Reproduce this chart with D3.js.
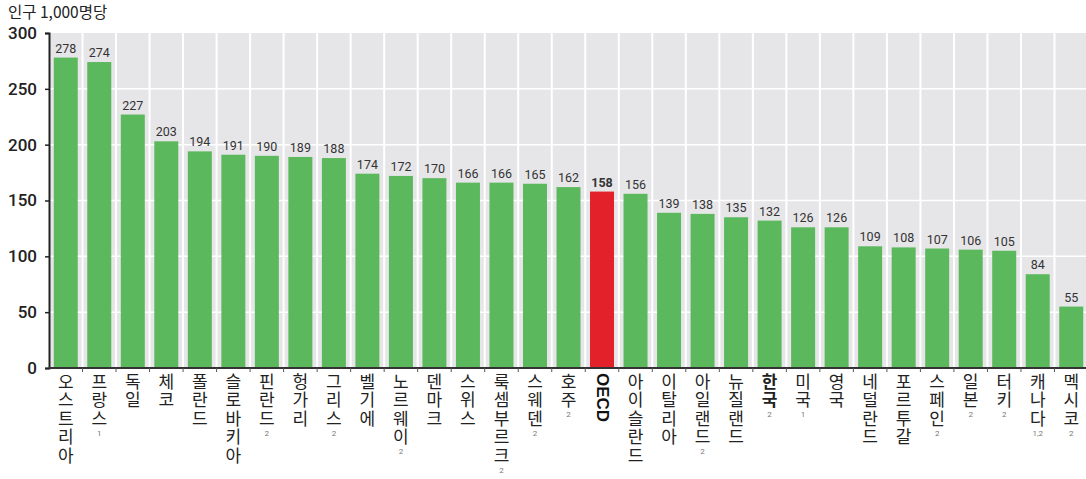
<!DOCTYPE html>
<html>

<head>
    <meta charset="utf-8">
    <title>인구 1,000명당</title>
    <script src="https://cdn.jsdelivr.net/npm/d3@7"></script>
    <style>
        body {
            margin: 0;
            background: #fff;
        }

        .num {
            font-family: 'Liberation Sans Narrow', 'Roboto', sans-serif;
        }

        .kr {
            font-family: 'Noto Sans CJK KR', sans-serif;
        }

        .vlabel {
            writing-mode: vertical-rl;
            text-orientation: upright;
        }
    </style>
</head>

<body>
    <script>
        // Data
        const countries = ['오스트리아', '프랑스', '독일', '체코', '폴란드', '슬로바키아', '핀란드', '헝가리', '그리스',
            '벨기에', '노르웨이', '덴마크', '스위스', '룩셈부르크', '스웨덴', '호주', 'OECD', '아이슬란드', '이탈리아',
            '아일랜드', '뉴질랜드', '한국', '미국', '영국', '네덜란드', '포르투갈', '스페인', '일본', '터키', '캐나다', '멕시코'];
        const values = [278, 274, 227, 203, 194, 191, 190, 189, 188, 174, 172, 170, 166, 166, 165, 162, 158, 156, 139,
            138, 135, 132, 126, 126, 109, 108, 107, 106, 105, 84, 55];
        const footnotes = ['', '1', '', '', '', '', '2', '', '2', '', '2', '', '', '2', '2', '2', '', '', '',
            '2', '', '2', '1', '', '', '', '2', '2', '2', '1,2', '2'];
        const yTicks = [0, 50, 100, 150, 200, 250, 300];
        const unitLabel = '인구 1,000명당';

        const data = countries.map((c, i) => ({ name: c, value: values[i], note: footnotes[i] }));

        const width = 1086;
        const height = 479;
        const margin = { top: 33, right: -2, bottom: 111, left: 49 };
        const innerW = width - margin.left - margin.right;
        const innerH = height - margin.top - margin.bottom;

        const svg = d3.select('body')
            .append('svg')
            .attr('width', width)
            .attr('height', height);

        const g = svg.append('g')
            .attr('transform', `translate(${margin.left}, ${margin.top})`);

        const xScale = d3.scaleBand()
            .domain(countries)
            .range([0, innerW])
            .paddingInner(0)
            .paddingOuter(0);

        const yScale = d3.scaleLinear()
            .domain([0, 300])
            .range([innerH, 0]);

        // Grey panel
        g.append('rect')
            .attr('width', innerW)
            .attr('height', innerH)
            .attr('fill', '#e6e6e9');

        // White horizontal gridlines
        g.selectAll('.hgrid')
            .data(yTicks.filter(t => t > 0 && t < 300))
            .enter()
            .append('line')
            .attr('x1', 0)
            .attr('x2', innerW)
            .attr('y1', d => yScale(d))
            .attr('y2', d => yScale(d))
            .attr('stroke', '#fff')
            .attr('stroke-width', 1.5);

        // White vertical separators between bands
        g.selectAll('.vgrid')
            .data(countries.slice(1))
            .enter()
            .append('line')
            .attr('x1', d => xScale(d))
            .attr('x2', d => xScale(d))
            .attr('y1', 0)
            .attr('y2', innerH)
            .attr('stroke', '#fff')
            .attr('stroke-width', 2);

        // Bars
        const barW = 24;
        g.selectAll('.bar')
            .data(data)
            .enter()
            .append('rect')
            .attr('class', 'bar')
            .attr('x', d => xScale(d.name) + xScale.bandwidth() / 2 - barW / 2)
            .attr('y', d => yScale(d.value))
            .attr('width', barW)
            .attr('height', d => innerH - yScale(d.value))
            .attr('fill', d => d.name === 'OECD' ? '#e3212a' : '#5cb85c');

        // Value labels
        g.selectAll('.bar-label')
            .data(data)
            .enter()
            .append('text')
            .attr('class', 'num')
            .attr('x', d => xScale(d.name) + xScale.bandwidth() / 2)
            .attr('y', d => yScale(d.value) - 5)
            .attr('text-anchor', 'middle')
            .attr('fill', '#333')
            .style('font-size', '12.5px')
            .style('font-weight', d => d.name === 'OECD' ? 'bold' : 'normal')
            .text(d => d.value);

        // Y axis
        const yAxis = g.append('g')
            .call(d3.axisLeft(yScale).tickValues(yTicks).tickSize(4).tickPadding(8));
        yAxis.select('.domain').attr('stroke', '#222').attr('stroke-width', 2);
        yAxis.selectAll('.tick line').attr('stroke', '#222').attr('stroke-width', 1.5);
        yAxis.selectAll('.tick text')
            .attr('class', 'num')
            .attr('fill', '#222')
            .style('font-size', '17px')
            .style('font-weight', '500');

        // X axis line + small ticks at band edges
        g.append('line')
            .attr('x1', 0)
            .attr('x2', innerW)
            .attr('y1', innerH)
            .attr('y2', innerH)
            .attr('stroke', '#333')
            .attr('stroke-width', 2);
        g.selectAll('.xtick')
            .data(countries.slice(1))
            .enter()
            .append('line')
            .attr('x1', d => xScale(d))
            .attr('x2', d => xScale(d))
            .attr('y1', innerH)
            .attr('y2', innerH + 4)
            .attr('stroke', '#555')
            .attr('stroke-width', 1);

        // Vertical category labels, written top to bottom
        const step = 18.5;
        const fontPx = 17;
        const labelTop = innerH + 5;
        data.forEach(d => {
            const cx = xScale(d.name) + xScale.bandwidth() / 2;
            if (d.name === 'OECD') {
                g.append('text')
                    .attr('x', cx)
                    .attr('y', labelTop)
                    .style('writing-mode', 'vertical-rl')
                    .attr('font-family', 'Liberation Sans, Arial, sans-serif')
                    .attr('font-weight', 'bold')
                    .style('font-size', '17px')
                    .attr('fill', '#111')
                    .text(d.name);
                return;
            }
            const n = Array.from(d.name).length;
            g.append('text')
                .attr('class', 'kr vlabel')
                .attr('x', cx)
                .attr('y', labelTop)
                .attr('fill', '#222')
                .style('font-size', fontPx + 'px')
                .style('letter-spacing', (step - fontPx) + 'px')
                .style('font-weight', d.name === '한국' ? 'bold' : 'normal')
                .text(d.name);
            if (d.note) {
                g.append('text')
                    .attr('class', 'num')
                    .attr('x', cx)
                    .attr('y', labelTop + n * step + 7)
                    .attr('text-anchor', 'middle')
                    .attr('fill', '#777')
                    .style('font-size', '8px')
                    .text(d.note);
            }
        });

        // Unit label
        svg.append('text')
            .attr('class', 'kr')
            .attr('x', 8)
            .attr('y', 18)
            .attr('fill', '#222')
            .style('font-size', '15.5px')
            .text(unitLabel);
    </script>
</body>

</html>
